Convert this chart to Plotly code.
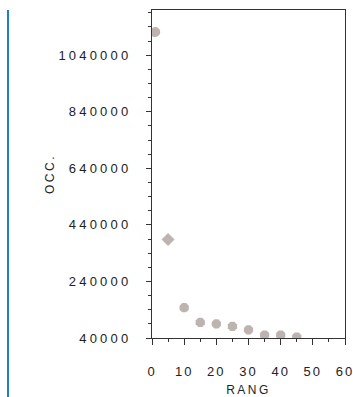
import plotly.graph_objects as go

rang = [1, 5, 10, 15, 20, 25, 30, 35, 40, 45]
occ = [1122000, 388000, 147000, 95000, 90000, 81000, 69000, 50500, 50500, 43500]
y_ticks = [40000, 240000, 440000, 640000, 840000, 1040000]
x_ticks = [0, 10, 20, 30, 40, 50, 60]

symbols = ["circle", "diamond"] + ["octagon"] * (len(rang) - 2)

fig = go.Figure()
fig.add_trace(go.Scatter(
    x=rang, y=occ, mode="markers",
    marker=dict(color="#bdb3b0", size=10, symbol=symbols, line=dict(width=0)),
    showlegend=False, hoverinfo="skip",
))

font = dict(family="Liberation Sans, Arial, sans-serif", size=13, color="#222222")

fig.update_layout(
    width=353, height=397,
    margin=dict(l=152, r=8, t=10, b=59, autoexpand=False),
    paper_bgcolor="white", plot_bgcolor="white",
    font=font,
    xaxis=dict(
        range=[0, 60], tickvals=x_ticks, ticktext=[str(v) for v in x_ticks],
        showgrid=False, zeroline=False, automargin=False,
        showline=True, linecolor="#333333", linewidth=1, mirror=True,
        ticks="outside", ticklen=6, tickcolor="#333333", ticklabelstandoff=15,
        minor=dict(dtick=5, tick0=0, ticks="outside", ticklen=3, tickcolor="#333333"),
        title=dict(text="RANG", standoff=9, font=dict(size=12)),
    ),
    yaxis=dict(
        range=[40000, 1200000], tickvals=y_ticks, ticktext=[str(v) for v in y_ticks],
        showgrid=False, zeroline=False, automargin=False,
        showline=True, linecolor="#333333", linewidth=1, mirror=True,
        ticks="outside", ticklen=5, tickcolor="#333333", ticklabelstandoff=12,
        minor=dict(dtick=50000, tick0=40000, ticks="outside", ticklen=3, tickcolor="#333333"),
        title=dict(text="OCC.", standoff=23, font=dict(size=12)),
    ),
    shapes=[dict(
        type="line", xref="paper", yref="paper",
        x0=(8 - 152) / 193, x1=(8 - 152) / 193, y0=1.0, y1=(338 - 397) / 328,
        line=dict(color="#1f80c2", width=2),
    )],
)

post = """
document.body.style.margin = '0';
document.body.style.padding = '0';
var st = document.createElement('style');
st.textContent = '.xtick text {letter-spacing: 2px;} .ytick text {letter-spacing: 3.2px;} .g-xtitle text, .g-ytitle text {letter-spacing: 2.5px;}';
document.head.appendChild(st);
"""
fig.write_html("out.html", post_script=post, config={"displayModeBar": False})
